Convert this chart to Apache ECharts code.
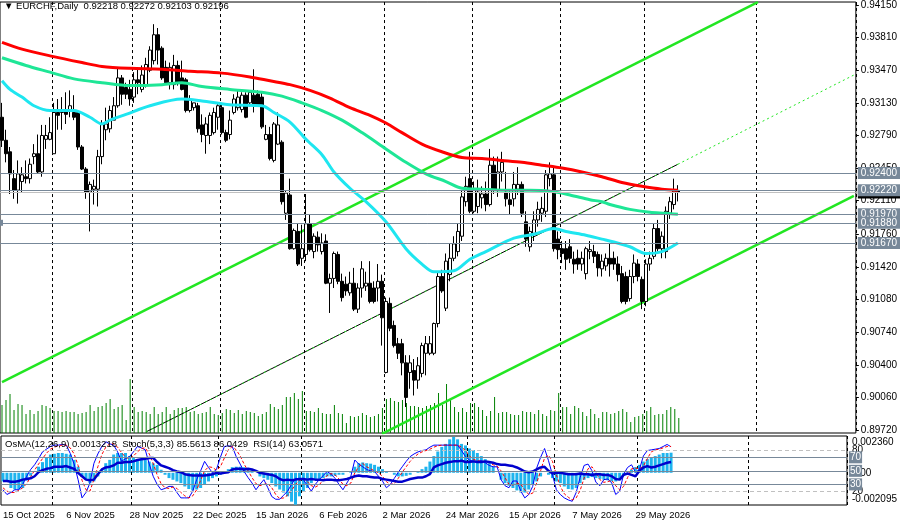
<!DOCTYPE html>
<html lang="en">
<head>
<meta charset="UTF-8">
<title>EURCHF Daily</title>
<script src="https://cdn.jsdelivr.net/npm/echarts@6/dist/echarts.min.js"></script>
<style>
*{margin:0;padding:0;border:0;}
#chart{width:900px;height:526px;}
</style>
</head>
<body>
<div id="chart"></div>
<script>
// daily bars, [open, close, low, high]
var candles = [
[0.9298,0.9274,0.9267,0.9313],[0.9274,0.9260,0.9251,0.9285],[0.9262,0.9239,0.9218,0.9267],[0.9234,0.9222,0.9213,0.9243],
[0.9222,0.9239,0.9208,0.9253],[0.9231,0.9238,0.9220,0.9246],[0.9236,0.9234,0.9229,0.9253],[0.9234,0.9249,0.9229,0.9255],
[0.9257,0.9260,0.9249,0.9270],[0.9260,0.9241,0.9239,0.9280],[0.9241,0.9279,0.9236,0.9290],[0.9275,0.9279,0.9265,0.9290],
[0.9275,0.9282,0.9274,0.9298],[0.9260,0.9303,0.9260,0.9313],[0.9303,0.9300,0.9285,0.9317],[0.9303,0.9306,0.9285,0.9319],
[0.9306,0.9301,0.9291,0.9324],[0.9306,0.9310,0.9298,0.9326],[0.9303,0.9298,0.9295,0.9321],[0.9303,0.9267,0.9264,0.9305],
[0.9267,0.9244,0.9243,0.9269],[0.9244,0.9220,0.9213,0.9246],[0.9220,0.9228,0.9179,0.9231],[0.9223,0.9226,0.9207,0.9233],
[0.9223,0.9257,0.9205,0.9264],[0.9257,0.9291,0.9249,0.9295],[0.9285,0.9291,0.9274,0.9308],[0.9286,0.9305,0.9282,0.9310],
[0.9295,0.9310,0.9295,0.9319],[0.9310,0.9339,0.9308,0.9350],[0.9339,0.9322,0.9311,0.9342],[0.9329,0.9322,0.9317,0.9334],
[0.9327,0.9317,0.9310,0.9337],[0.9319,0.9337,0.9313,0.9345],[0.9337,0.9334,0.9322,0.9350],[0.9327,0.9342,0.9324,0.9352],
[0.9332,0.9353,0.9329,0.9360],[0.9347,0.9368,0.9345,0.9372],[0.9357,0.9384,0.9353,0.9395],[0.9384,0.9368,0.9353,0.9391],
[0.9370,0.9339,0.9337,0.9372],[0.9350,0.9334,0.9332,0.9357],[0.9334,0.9350,0.9327,0.9355],[0.9332,0.9352,0.9327,0.9363],
[0.9352,0.9334,0.9331,0.9357],[0.9339,0.9327,0.9326,0.9357],[0.9337,0.9305,0.9303,0.9339],[0.9305,0.9316,0.9303,0.9321],
[0.9308,0.9313,0.9305,0.9313],[0.9310,0.9286,0.9282,0.9313],[0.9290,0.9280,0.9272,0.9301],[0.9279,0.9291,0.9260,0.9298],
[0.9279,0.9300,0.9270,0.9303],[0.9282,0.9303,0.9280,0.9308],[0.9298,0.9310,0.9285,0.9313],[0.9308,0.9282,0.9280,0.9313],
[0.9282,0.9274,0.9272,0.9285],[0.9280,0.9295,0.9275,0.9305],[0.9303,0.9317,0.9301,0.9322],[0.9308,0.9319,0.9305,0.9326],
[0.9306,0.9321,0.9303,0.9324],[0.9321,0.9298,0.9297,0.9324],[0.9313,0.9324,0.9309,0.9326],[0.9321,0.9310,0.9303,0.9348],
[0.9322,0.9311,0.9309,0.9326],[0.9319,0.9288,0.9286,0.9324],[0.9275,0.9280,0.9274,0.9290],[0.9280,0.9255,0.9253,0.9288],
[0.9253,0.9291,0.9251,0.9293],[0.9270,0.9290,0.9269,0.9303],[0.9272,0.9210,0.9207,0.9274],[0.9198,0.9219,0.9191,0.9222],
[0.9217,0.9161,0.9160,0.9234],[0.9161,0.9180,0.9160,0.9182],[0.9179,0.9145,0.9143,0.9187],[0.9151,0.9161,0.9143,0.9186],
[0.9155,0.9187,0.9148,0.9218],[0.9187,0.9160,0.9158,0.9197],[0.9158,0.9174,0.9151,0.9177],[0.9173,0.9165,0.9158,0.9179],
[0.9158,0.9167,0.9155,0.9177],[0.9169,0.9125,0.9124,0.9176],[0.9125,0.9130,0.9094,0.9135],[0.9130,0.9156,0.9120,0.9158],
[0.9155,0.9127,0.9124,0.9158],[0.9127,0.9110,0.9106,0.9135],[0.9124,0.9117,0.9112,0.9132],[0.9115,0.9125,0.9112,0.9137],
[0.9125,0.9098,0.9096,0.9141],[0.9098,0.9120,0.9094,0.9125],[0.9120,0.9140,0.9110,0.9148],[0.9122,0.9125,0.9117,0.9137],
[0.9125,0.9106,0.9104,0.9148],[0.9120,0.9106,0.9104,0.9127],[0.9120,0.9127,0.9106,0.9145],[0.9127,0.9089,0.9060,0.9134],
[0.9032,0.9106,0.9031,0.9110],[0.9104,0.9078,0.9075,0.9110],[0.9081,0.9060,0.9058,0.9086],[0.9062,0.9052,0.9046,0.9068],
[0.9062,0.9042,0.9029,0.9067],[0.9042,0.9006,0.8996,0.9050],[0.9032,0.9042,0.9015,0.9050],[0.9034,0.9024,0.9008,0.9046],
[0.9024,0.9039,0.9015,0.9048],[0.9031,0.9060,0.9027,0.9063],[0.9052,0.9062,0.9029,0.9070],[0.9052,0.9062,0.9050,0.9070],
[0.9052,0.9083,0.9050,0.9084],[0.9083,0.9132,0.9079,0.9137],[0.9132,0.9117,0.9115,0.9139],[0.9099,0.9148,0.9096,0.9156],
[0.9134,0.9151,0.9127,0.9166],[0.9151,0.9166,0.9148,0.9174],[0.9158,0.9179,0.9153,0.9187],[0.9174,0.9215,0.9169,0.9222],
[0.9210,0.9226,0.9205,0.9236],[0.9234,0.9200,0.9198,0.9262],[0.9200,0.9222,0.9198,0.9231],[0.9205,0.9220,0.9198,0.9233],
[0.9214,0.9218,0.9203,0.9226],[0.9218,0.9207,0.9200,0.9231],[0.9207,0.9248,0.9205,0.9265],[0.9248,0.9222,0.9218,0.9257],
[0.9222,0.9241,0.9215,0.9257],[0.9241,0.9251,0.9231,0.9262],[0.9220,0.9213,0.9205,0.9241],[0.9212,0.9207,0.9197,0.9222],
[0.9213,0.9228,0.9205,0.9241],[0.9223,0.9228,0.9217,0.9246],[0.9228,0.9198,0.9194,0.9231],[0.9189,0.9171,0.9163,0.9200],
[0.9163,0.9179,0.9158,0.9184],[0.9177,0.9191,0.9169,0.9200],[0.9191,0.9202,0.9184,0.9210],[0.9198,0.9203,0.9189,0.9215],
[0.9200,0.9238,0.9194,0.9243],[0.9234,0.9239,0.9226,0.9251],[0.9238,0.9161,0.9158,0.9246],[0.9171,0.9160,0.9150,0.9179],
[0.9161,0.9156,0.9146,0.9169],[0.9161,0.9150,0.9139,0.9169],[0.9163,0.9151,0.9146,0.9171],[0.9150,0.9145,0.9135,0.9158],
[0.9151,0.9145,0.9139,0.9160],[0.9145,0.9151,0.9138,0.9158],[0.9135,0.9161,0.9129,0.9163],[0.9158,0.9160,0.9150,0.9169],
[0.9158,0.9153,0.9146,0.9165],[0.9155,0.9141,0.9132,0.9158],[0.9140,0.9148,0.9132,0.9155],[0.9143,0.9151,0.9138,0.9156],
[0.9151,0.9145,0.9132,0.9166],[0.9151,0.9145,0.9139,0.9158],[0.9145,0.9134,0.9127,0.9153],[0.9135,0.9106,0.9104,0.9143],
[0.9132,0.9106,0.9103,0.9137],[0.9109,0.9132,0.9106,0.9139],[0.9132,0.9146,0.9125,0.9155],[0.9145,0.9132,0.9127,0.9150],
[0.9129,0.9106,0.9098,0.9132],[0.9106,0.9145,0.9101,0.9150],[0.9145,0.9151,0.9138,0.9158],[0.9153,0.9182,0.9150,0.9187],
[0.9182,0.9161,0.9158,0.9191],[0.9161,0.9174,0.9151,0.9179],[0.9158,0.9200,0.9151,0.9205],[0.9198,0.9210,0.9192,0.9215],
[0.9207,0.9221,0.9202,0.9234],[0.92218,0.92196,0.92103,0.92272]
];

// tick volume, thousands
var volumes = [
28,33,39,23,29,28,19,23,19,22,28,27,25,22,22,21,22,21,21,19,
20,21,28,22,26,27,30,34,24,26,28,13,54,26,21,22,21,19,26,19,
21,26,19,23,25,25,26,21,22,19,20,21,26,19,18,20,24,23,20,23,
19,22,21,20,17,19,21,29,26,24,28,36,36,40,34,42,22,22,21,25,
20,19,19,28,20,19,10,17,16,17,20,18,16,17,19,25,34,35,32,31,
33,30,27,27,26,25,27,28,30,40,28,49,33,26,21,25,21,30,30,26,
23,17,22,36,20,21,21,19,18,18,22,21,21,19,23,19,17,23,22,40,
26,26,19,27,25,21,17,24,19,15,21,21,19,20,22,24,21,11,16,17,
19,22,26,18,19,19,23,26,24,15
];

// moving averages, [bar, price]
var maRed = [[0,0.9376],[5,0.9369],[12,0.9362],[20,0.9355],[25,0.9351],[32,0.9349],[40,0.9348],[47,0.9346],
[55,0.9344],[62,0.9340],[67,0.9336],[72,0.9332],[77,0.9326],[82,0.9318],[87,0.9308],[92,0.9300],[96,0.9292],
[100,0.9282],[105,0.9270],[110,0.9262],[115,0.9256],[120,0.9255],[125,0.9253],[130,0.9251],[135,0.9248],
[140,0.9245],[145,0.9241],[150,0.9236],[155,0.9230],[160,0.9226],[165,0.9223],[169,0.9222]];
var maGreen = [[0,0.9360],[6,0.9352],[12,0.9345],[18,0.9338],[25,0.9334],[32,0.9331],[40,0.9332],[45,0.9334],
[50,0.9330],[57,0.9327],[65,0.9324],[70,0.9320],[75,0.9313],[80,0.9305],[85,0.9295],[90,0.9282],[96,0.9265],
[101,0.9251],[106,0.9239],[111,0.9231],[115,0.9224],[120,0.9223],[125,0.9222],[132,0.9222],[137,0.9221],
[142,0.9217],[147,0.9212],[150,0.9210],[152,0.9207],[157,0.9202],[162,0.9199],[166,0.9198],[169,0.9197]];
var maCyan = [[0,0.9336],[2,0.9327],[5,0.9319],[8,0.9310],[12,0.9305],[18,0.9305],[22,0.9298],[25,0.9291],
[27,0.9295],[31,0.9301],[37,0.9310],[45,0.9317],[50,0.9315],[57,0.9311],[65,0.9310],[68,0.9303],[72,0.9293],
[76,0.9275],[80,0.9259],[83,0.9241],[87,0.9224],[91,0.9210],[96,0.9189],[101,0.9161],[105,0.9145],[108,0.9137],
[113,0.9138],[117,0.9150],[121,0.9158],[128,0.9172],[133,0.9176],[138,0.9182],[141,0.9179],[146,0.9175],
[150,0.9171],[153,0.9168],[157,0.9163],[161,0.9156],[165,0.9158],[169,0.9167]];

// channel lines, [bar, price]
var chUpper = [[0,0.9022],[189,0.9418]];
var chLower = [[95,0.8968],[213,0.9216]];
var chMid = [[36,0.8970],[169,0.9249]];
var chMidExt = [[169,0.9249],[213,0.9342]];

var levels = [0.92400, 0.92220, 0.91970, 0.91880, 0.91670];
var bidPrice = 0.92196;
var priceTicks = [0.89720,0.90060,0.90400,0.90740,0.91080,0.91420,0.91760,0.92110,0.92450,0.92790,0.93130,0.93470,0.93810,0.94150];

var dateLabels = ['15 Oct 2025','6 Nov 2025','28 Nov 2025','22 Dec 2025','15 Jan 2026','6 Feb 2026',
  '2 Mar 2026','24 Mar 2026','15 Apr 2026','7 May 2026','29 May 2026'];
var labelStep = 16;
var monthStarts = [13,33,55,76,96,118,140,161,189];
var barSlots = 214;

// oscillators
var osma = [
-0.00057,-0.00057,-0.001,-0.0011,-0.0011,-0.001,-0.0005,-0.0002,0,0.0004,
0.0007,0.001,0.0012,0.00125,0.0013,0.0013,0.00125,0.0012,0.00085,0.0004,
-0.00024,-0.00046,-0.00068,-0.00057,-0.00024,0.0002,0.00063,0.00085,0.0012,0.0013,
0.0013,0.0013,0.0011,0.001,0.00085,0.00085,0.00085,0.00074,0.00063,0.00052,
0.0002,-0.00013,-0.00035,-0.00046,-0.00057,-0.00068,-0.0009,-0.00107,-0.00116,-0.0011,
-0.001,-0.0008,-0.00057,-0.00035,-0.00024,-0.00013,0,0.00024,0.00037,0.0004,
0.0004,0.00037,0.0003,0.0002,0,-0.00024,-0.00035,-0.00046,-0.00068,-0.0009,
-0.0011,-0.0013,-0.00155,-0.0019,-0.0021,-0.00155,-0.0012,-0.001,-0.00068,-0.00046,
-0.0004,-0.00035,-0.00024,-0.00024,-0.0002,-0.00013,-0.00013,0,0.0001,0.0004,
0.00063,0.00068,0.00063,0.0006,0.00052,0.0004,0.00024,0.0001,0,-0.00013,
-0.00024,-0.00024,-0.0002,-0.00013,0,0.0001,0.00024,0.0004,0.00074,0.0011,
0.0014,0.0017,0.0019,0.0022,0.00236,0.0022,0.0019,0.0018,0.0016,0.0015,
0.0013,0.0011,0.0009,0.00063,0.0004,0,-0.00046,-0.00068,-0.00085,-0.001,
-0.00116,-0.0013,-0.0013,-0.0011,-0.0008,-0.00057,-0.00024,0,-0.00013,-0.00035,
-0.00057,-0.00068,-0.0009,-0.00107,-0.0011,-0.001,-0.00068,-0.00046,-0.00035,-0.00028,
-0.00035,-0.0004,-0.00046,-0.0005,-0.00057,-0.00057,-0.00046,-0.0002,0,0.0002,
0.00037,0.00052,0.00074,0.0009,0.001,0.0011,0.0012,0.0013,0.0013,0.0013218
];
var stochMain = [
22,15,18,22,22,30,42,52,59,68,78,82,86,88,88,89,88,76,60,37,
10,18,32,61,75,86,93,90,88,78,64,68,71,78,86,84,81,60,42,30,
22,24,27,27,18,10,10,10,20,37,50,64,55,47,52,70,86,87,86,71,
60,49,40,32,22,30,37,25,12,8,8,14,20,30,39,38,37,28,20,30,
37,43,49,45,39,30,22,32,42,66,60,56,52,50,49,42,35,25,30,39,
48,56,64,71,75,78,80,81,85,88,88,88,88,88,88,88,80,71,66,64,
64,65,62,58,56,56,37,28,25,35,35,20,10,15,27,54,70,83,65,44,
22,15,10,7,5,18,40,58,60,50,33,28,37,38,32,15,20,45,55,59,
48,52,72,80,81,82,83,86,89,85.5613
];
var stochSignal = [
25,20,18,18,21,25,31,41,51,60,68,76,82,85,87,88,88,84,75,58,
36,22,20,37,56,74,85,90,90,85,77,70,68,72,78,83,84,75,61,44,
31,25,24,26,24,18,13,10,13,22,36,50,56,55,51,56,69,81,86,81,
72,60,50,40,31,28,30,31,25,15,9,10,14,21,30,36,38,34,28,26,
29,37,43,46,44,38,30,28,32,47,56,61,56,53,50,47,42,34,30,31,
39,48,56,64,70,75,78,80,82,85,87,88,88,88,88,88,85,80,72,67,
65,64,64,62,59,57,50,40,30,29,32,30,22,15,17,32,50,69,73,64,
44,27,16,11,7,10,21,39,53,56,48,37,33,34,36,28,22,27,40,53,
54,53,57,68,78,81,82,84,86,86.0429
];
var rsi = [
35,35,34,34,35,37,38,39,42,48,51,53,54,56,56,56,57,55,53,47,
42,37,36,37,45,52,55,56,58,62,62,63,63,64,66,67,68,69,69,63,
58,56,54,51,49,48,45,44,43,43,43,43,44,45,47,46,47,48,52,53,
53,52,53,52,50,47,46,45,44,42,38,36,37,36,37,38,38,37,38,37,
37,36,37,37,36,36,37,38,40,42,43,42,42,41,40,40,38,37,36,35,
34,34,36,38,39,40,40,42,45,55,58,60,62,63,64,64,65,63,63,64,
63,63,64,63,62,60,59,59,58,57,55,52,49,48,49,52,55,56,50,46,
47,47,46,45,45,45,46,45,45,44,45,45,44,44,42,38,37,44,46,44,
42,50,55,57,55,56,58,60,62,63.0571
];

var cats = [];
for (var i = 0; i < barSlots; i++) cats.push(String(i));

var font = '"Liberation Sans", Arial, "DejaVu Sans", sans-serif';
var levelGrey = '#778899';

function isMonthStart(i) { return monthStarts.indexOf(i) >= 0; }

// horizontal levels with their price boxes, bid line under the 0.92220 box
var levelData = [];
levels.forEach(function (v, k) {
    if (k === 1) {
        levelData.push({yAxis: bidPrice, lineStyle: {color: '#c0c0c0'},
            label: {formatter: bidPrice.toFixed(5), backgroundColor: '#000'}});
    }
    var item = {yAxis: v, label: {formatter: v.toFixed(5)}};
    if (k === 3) { item.symbol = ['emptyRect', 'emptyRect']; item.symbolSize = 6; }
    levelData.push(item);
});

var chart = echarts.init(document.getElementById('chart'));
var option = {
    animation: false,
    backgroundColor: '#fff',
    textStyle: {fontFamily: font},
    title: [
        {text: '\u25BC EURCHF,Daily  0.92218 0.92272 0.92103 0.92196', left: 4, top: 1, padding: 0,
            textStyle: {fontSize: 9.5, fontWeight: 'normal', color: '#000', fontFamily: font}},
        {text: 'OsMA(12,26,9) 0.0013218  Stoch(5,3,3) 85.5613 86.0429  RSI(14) 63.0571', left: 5, top: 439, padding: 0,
            textStyle: {fontSize: 9.5, fontWeight: 'normal', color: '#000', fontFamily: font}}
    ],
    grid: [
        {left: 0, right: 43, top: -1, height: 434, show: true, borderColor: '#000', borderWidth: 1},
        {left: 0, right: 43, top: 333, height: 100},
        {left: 0, right: 43, top: 436, height: 69, show: true, borderColor: '#000', borderWidth: 1}
    ],
    xAxis: [
        {type: 'category', gridIndex: 0, data: cats, axisLine: {show: false}, axisTick: {show: false},
            axisLabel: {show: false},
            splitLine: {show: true, interval: isMonthStart, lineStyle: {color: '#000', type: [3, 3], width: 1}}},
        {type: 'category', gridIndex: 1, data: cats, show: false},
        {type: 'category', gridIndex: 2, data: cats, axisLine: {show: false}, axisTick: {show: false},
            axisLabel: {
                interval: function (i) { return i % labelStep === 0 && i / labelStep < dateLabels.length; },
                formatter: function (v) { return dateLabels[parseInt(v, 10) / labelStep]; },
                align: 'left', margin: 5, fontSize: 9.5, color: '#000', fontFamily: font
            },
            splitLine: {show: true, interval: isMonthStart, lineStyle: {color: '#000', type: [3, 3], width: 1}}}
    ],
    yAxis: [
        {type: 'value', gridIndex: 0, position: 'right', min: 0.89689, max: 0.94181,
            splitLine: {show: false}, axisLine: {show: false},
            axisTick: {show: true, length: 3, customValues: priceTicks, lineStyle: {color: '#000'}},
            axisLabel: {customValues: priceTicks, margin: 5, fontSize: 10, color: '#000', fontFamily: font,
                formatter: function (v) { return v.toFixed(5); }}},
        {type: 'value', gridIndex: 1, min: 0, max: 100, show: false},
        {type: 'value', gridIndex: 2, position: 'right', min: -0.5, max: 101.5,
            splitLine: {show: false}, axisLine: {show: false}, axisTick: {show: false},
            axisLabel: {customValues: [80, 20], margin: 5, fontSize: 10, color: '#000', fontFamily: font}},
        {type: 'value', gridIndex: 2, position: 'right', min: -0.00212, max: 0.00242,
            splitLine: {show: false}, axisLine: {show: false}, axisTick: {show: false},
            axisLabel: {customValues: [0.00236], margin: 5, fontSize: 10, color: '#000', fontFamily: font,
                verticalAlign: 'top', formatter: function (v) { return v.toFixed(6); }}},
        {type: 'value', gridIndex: 2, position: 'right', min: -0.00212, max: 0.00242,
            splitLine: {show: false}, axisLine: {show: false}, axisTick: {show: false},
            axisLabel: {customValues: [-0.002095], margin: 5, fontSize: 10, color: '#000', fontFamily: font,
                verticalAlign: 'bottom', formatter: function (v) { return v.toFixed(6); }}},
        {type: 'value', gridIndex: 2, position: 'right', min: -0.00212, max: 0.00242,
            splitLine: {show: false}, axisLine: {show: false}, axisTick: {show: false},
            axisLabel: {customValues: [0], margin: 5, fontSize: 10, color: '#000', fontFamily: font,
                formatter: function (v) { return v.toFixed(2); }}}
    ],
    series: [
        {name: 'Volume', type: 'bar', xAxisIndex: 1, yAxisIndex: 1, data: volumes, barWidth: 1,
            itemStyle: {color: '#008000'}, z: 1},
        {name: 'Levels', type: 'line', data: [], z: 2,
            markLine: {silent: true, symbol: 'none', animation: false, precision: 5,
                lineStyle: {color: levelGrey, width: 1, type: 'solid'},
                label: {position: 'end', distance: 2, color: '#fff', backgroundColor: levelGrey,
                    fontSize: 10, fontFamily: font, padding: [1, 3, 0, 3], lineHeight: 11},
                data: levelData}},
        {name: 'Upper', type: 'line', data: chUpper, showSymbol: false, z: 2,
            lineStyle: {color: '#22e622', width: 2.5}},
        {name: 'Lower', type: 'line', data: chLower, showSymbol: false, z: 2,
            lineStyle: {color: '#22e622', width: 2.5}},
        {name: 'Mid', type: 'line', data: chMid, showSymbol: false, z: 2,
            lineStyle: {color: '#000', width: 1}},
        {name: 'MidDots', type: 'line', data: chMid, showSymbol: false, z: 2,
            lineStyle: {color: '#22e622', width: 1, type: [2, 4]}},
        {name: 'MidExt', type: 'line', data: chMidExt, showSymbol: false, z: 2,
            lineStyle: {color: '#22e622', width: 1, type: [2, 3]}},
        {name: 'EURCHF', type: 'candlestick', data: candles, barWidth: 3, z: 3,
            itemStyle: {color: '#fff', color0: '#000', borderColor: '#000', borderColor0: '#000', borderWidth: 1}},
        {name: 'MA200', type: 'line', data: maRed, showSymbol: false, smooth: 0.3, z: 4,
            lineStyle: {color: '#ff0000', width: 3}},
        {name: 'MA100', type: 'line', data: maGreen, showSymbol: false, smooth: 0.3, z: 4,
            lineStyle: {color: '#1ee696', width: 3}},
        {name: 'MA50', type: 'line', data: maCyan, showSymbol: false, smooth: 0.3, z: 4,
            lineStyle: {color: '#1ee6f0', width: 3}},
        {name: 'OsMA', type: 'bar', xAxisIndex: 2, yAxisIndex: 3, data: osma, barWidth: 3,
            itemStyle: {color: '#1eb4ee'}, z: 2},
        {name: 'StochMain', type: 'line', xAxisIndex: 2, yAxisIndex: 2, data: stochMain, showSymbol: false, z: 3,
            lineStyle: {color: '#0000ff', width: 1},
            markLine: {silent: true, symbol: 'none', animation: false,
                label: {position: 'end', distance: 2, color: '#fff', backgroundColor: levelGrey,
                    fontSize: 10, fontFamily: font, padding: [1, 1, 0, 1], lineHeight: 11},
                data: [
                    {yAxis: 80, lineStyle: {color: '#c0c0c0', type: [4, 3], width: 1}, label: {show: false}},
                    {yAxis: 20, lineStyle: {color: '#c0c0c0', type: [4, 3], width: 1}, label: {show: false}},
                    {yAxis: 70, lineStyle: {color: levelGrey, type: 'solid', width: 1}, label: {formatter: '70'}},
                    {yAxis: 50, lineStyle: {color: levelGrey, type: 'solid', width: 1}, label: {formatter: '50'}},
                    {yAxis: 30, lineStyle: {color: levelGrey, type: 'solid', width: 1}, label: {formatter: '30'}}
                ]}},
        {name: 'StochSignal', type: 'line', xAxisIndex: 2, yAxisIndex: 2, data: stochSignal, showSymbol: false, z: 3,
            lineStyle: {color: '#ff0000', width: 1, type: [3, 2]}},
        {name: 'RSI', type: 'line', xAxisIndex: 2, yAxisIndex: 2, data: rsi, showSymbol: false, z: 4,
            lineStyle: {color: '#0000cd', width: 2.5}}
    ]
};
chart.setOption(option);
</script>
</body>
</html>
